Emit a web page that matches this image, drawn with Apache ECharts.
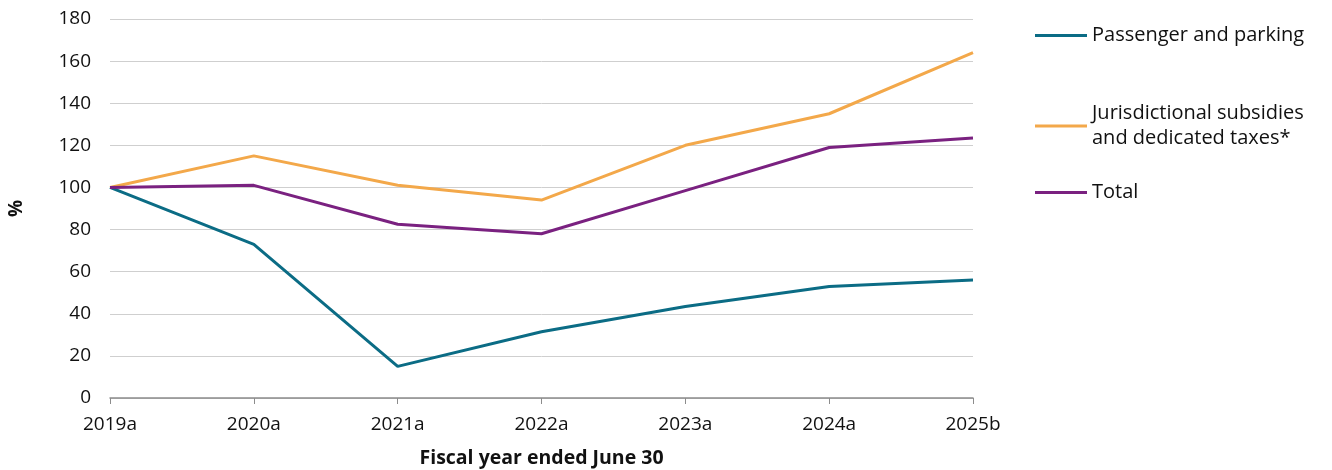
<!DOCTYPE html>
<html>
<head>
<meta charset="utf-8">
<script src="https://cdn.jsdelivr.net/npm/echarts@6/dist/echarts.min.js"></script>
<style>
  html, body { margin: 0; padding: 0; background: #fff; }
  #main { width: 1332px; height: 470px; }
</style>
</head>
<body>
<div id="main"></div>
<script>
var chart = echarts.init(document.getElementById('main'));

var years = ['2019a', '2020a', '2021a', '2022a', '2023a', '2024a', '2025b'];
var passenger = [100, 73, 15, 31.5, 43.5, 53, 56];
var subsidies = [100, 115, 101, 94, 120, 135, 164];
var total = [100, 101, 82.5, 78, 98.5, 119, 123.5];
var yTicks = [0, 20, 40, 60, 80, 100, 120, 140, 160, 180];

var names = ['Passenger and parking', 'Jurisdictional subsidies\nand dedicated taxes*', 'Total'];
var colors = ['#0b6c85', '#f3a84a', '#7a2180'];
var font = 'Open Sans';

function legendAt(name, top) {
    return {
        data: [name],
        left: 1030,
        top: top,
        icon: 'rect',
        itemWidth: 52,
        itemHeight: 3,
        itemGap: 0,
        selectedMode: false,
        textStyle: { fontFamily: font, fontSize: 20, color: '#111', lineHeight: 25, padding: [0, 0, 0, 0] }
    };
}

var option = {
    backgroundColor: '#fff',
    color: colors,
    animation: false,
    legend: [
        legendAt(names[0], 18),
        legendAt(names[1], 96),
        legendAt(names[2], 175)
    ],
    grid: { left: 110, right: 359, top: 19, bottom: 72, outerBoundsMode: 'none' },
    xAxis: {
        type: 'category',
        data: years,
        boundaryGap: false,
        name: 'Fiscal year ended June 30',
        nameLocation: 'middle',
        nameGap: 50,
        nameTextStyle: { fontFamily: font, fontSize: 19.5, fontWeight: 'bold', color: '#111' },
        axisLine: { lineStyle: { color: '#8c8c8c', width: 1.5 } },
        axisTick: { alignWithLabel: true, length: 6, lineStyle: { color: '#8c8c8c' } },
        axisLabel: { fontFamily: font, fontSize: 19, color: '#111', margin: 17 }
    },
    yAxis: {
        type: 'value',
        min: 0,
        max: 180,
        interval: 20,
        name: '%',
        nameLocation: 'middle',
        nameRotate: 90,
        nameGap: 84,
        nameTextStyle: { fontFamily: font, fontSize: 19, fontWeight: 'bold', color: '#111' },
        axisLine: { show: false },
        axisTick: { show: false },
        splitLine: { lineStyle: { color: '#cfcfcf', width: 1 } },
        axisLabel: {
            fontFamily: font, fontSize: 19, color: '#111', margin: 19,
            formatter: function (v) { return yTicks.indexOf(v) >= 0 ? String(v) : ''; }
        }
    },
    series: [
        { name: names[0], type: 'line', data: passenger, symbol: 'none', lineStyle: { width: 3 } },
        { name: names[1], type: 'line', data: subsidies, symbol: 'none', lineStyle: { width: 3 } },
        { name: names[2], type: 'line', data: total, symbol: 'none', lineStyle: { width: 3 } }
    ]
};

chart.setOption(option);
</script>
</body>
</html>
